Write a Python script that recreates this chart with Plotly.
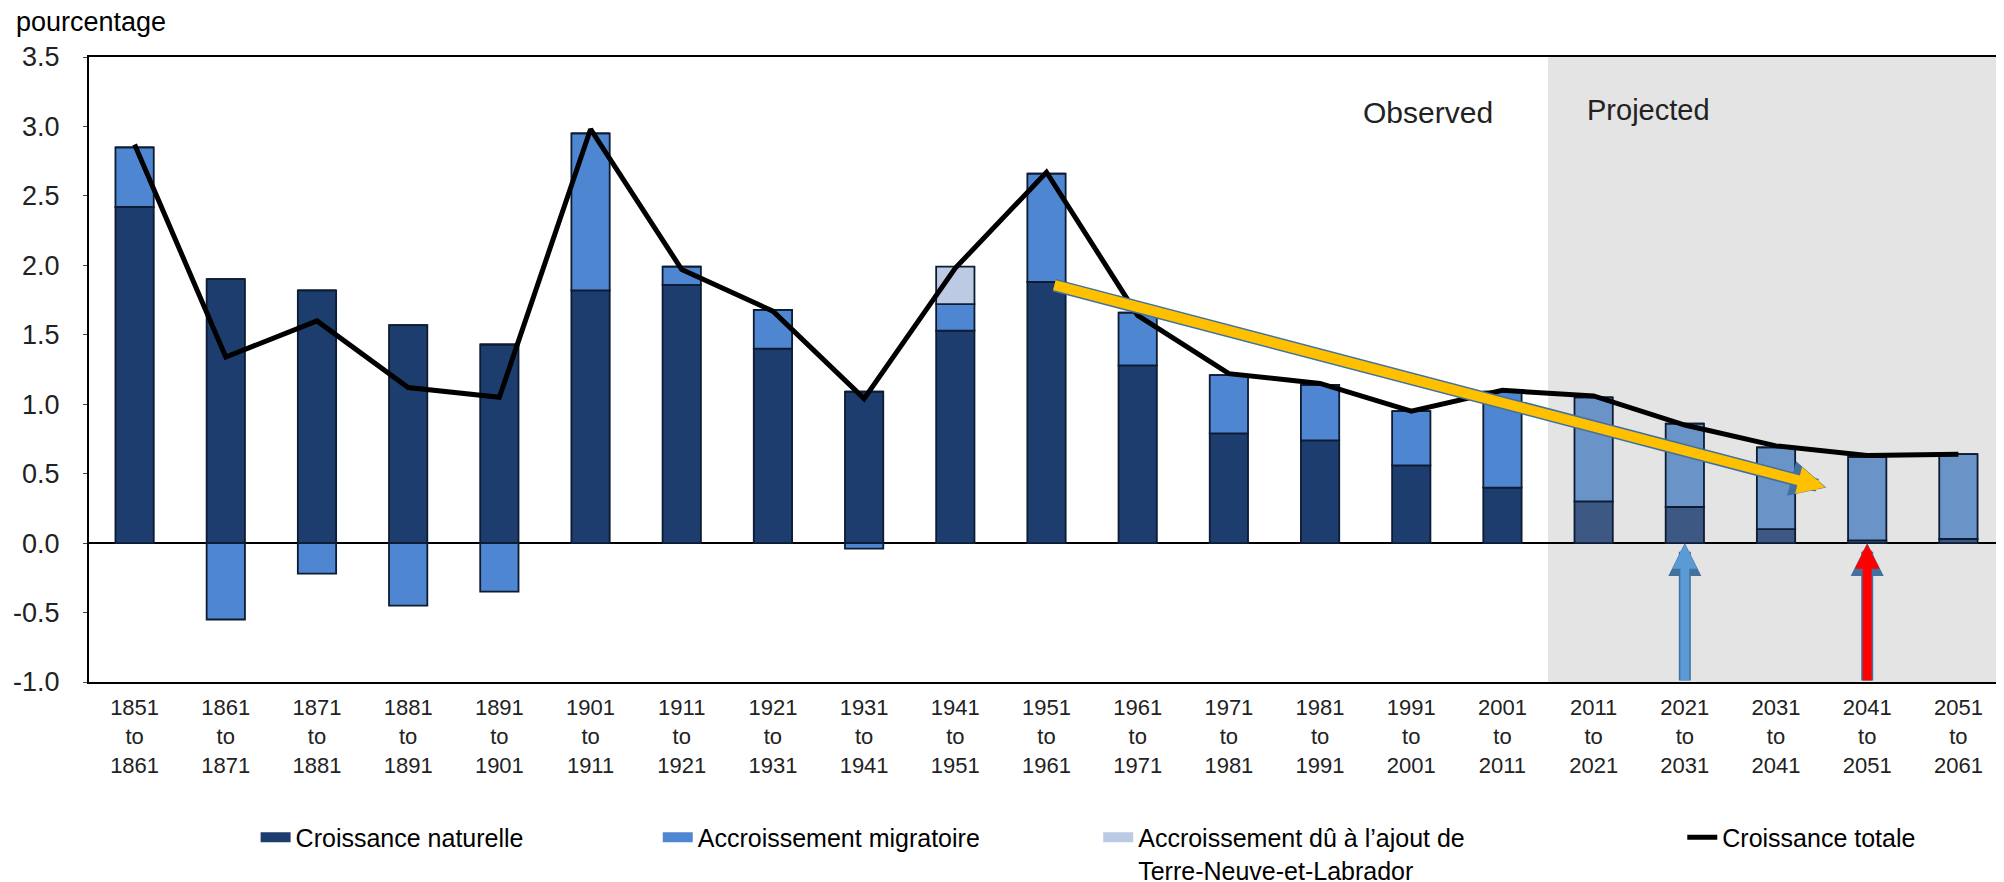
import plotly.graph_objects as go

periodes = ["1851<br>to<br>1861", "1861<br>to<br>1871", "1871<br>to<br>1881", "1881<br>to<br>1891",
            "1891<br>to<br>1901", "1901<br>to<br>1911", "1911<br>to<br>1921", "1921<br>to<br>1931",
            "1931<br>to<br>1941", "1941<br>to<br>1951", "1951<br>to<br>1961", "1961<br>to<br>1971",
            "1971<br>to<br>1981", "1981<br>to<br>1991", "1991<br>to<br>2001", "2001<br>to<br>2011",
            "2011<br>to<br>2021", "2021<br>to<br>2031", "2031<br>to<br>2041", "2041<br>to<br>2051",
            "2051<br>to<br>2061"]

naturelle = [2.42, 1.90, 1.82, 1.57, 1.43, 1.82, 1.86, 1.40, 1.09, 1.53, 1.88,
             1.28, 0.79, 0.74, 0.56, 0.40, 0.30, 0.26, 0.10, 0.02, 0.03]
migratoire = [0.43, -0.55, -0.22, -0.45, -0.35, 1.13, 0.13, 0.28, -0.04, 0.19, 0.78,
              0.38, 0.42, 0.40, 0.39, 0.69, 0.75, 0.60, 0.59, 0.60, 0.61]
terre_neuve = [0, 0, 0, 0, 0, 0, 0, 0, 0, 0.27, 0,
               0, 0, 0, 0, 0, 0, 0, 0, 0, 0]
totale = [2.87, 1.34, 1.60, 1.12, 1.05, 2.98, 1.97, 1.67, 1.04, 1.98, 2.67,
          1.64, 1.22, 1.15, 0.95, 1.10, 1.06, 0.85, 0.70, 0.63, 0.64]
projete = [False] * 16 + [True] * 5

y_ticks = [-1.0, -0.5, 0.0, 0.5, 1.0, 1.5, 2.0, 2.5, 3.0, 3.5]
y_labels = ["-1.0", "-0.5", "0.0", "0.5", "1.0", "1.5", "2.0", "2.5", "3.0", "3.5"]

x = list(range(len(periodes)))

col_nat = ["#3d5882" if p else "#1c3d6e" for p in projete]
col_mig = ["#6a94c8" if p else "#4f86d1" for p in projete]

police = "Liberation Sans, Arial, sans-serif"
contour = dict(color="#0d1b33", width=1.8)

fig = go.Figure()

fig.add_trace(go.Bar(x=x, y=naturelle, width=0.42, showlegend=False,
                     marker=dict(color=col_nat, line=contour)))
fig.add_trace(go.Bar(x=x, y=migratoire, width=0.42, showlegend=False,
                     marker=dict(color=col_mig, line=contour)))
fig.add_trace(go.Bar(x=x, y=terre_neuve, width=0.42, showlegend=False,
                     marker=dict(color="#bccbe3", line=contour)))
fig.add_trace(go.Scatter(x=x, y=totale, mode="lines", showlegend=False,
                         line=dict(color="black", width=5)))

# entrées de légende (rectangles larges comme dans l'original)
legendes = [
    ("Croissance naturelle", "#1c3d6e", "legend"),
    ("Accroissement migratoire", "#4f86d1", "legend2"),
    ("Accroissement dû à l’ajout de<br>Terre-Neuve-et-Labrador", "#bccbe3", "legend3"),
    ("Croissance totale", "black", "legend4"),
]
for nom, c, lg in legendes:
    largeur = 5 if c == "black" else 11
    fig.add_trace(go.Scatter(x=[None], y=[None], mode="lines", name=nom,
                             line=dict(color=c, width=largeur), legend=lg, showlegend=True))

# zone projetée
fig.add_shape(type="rect", xref="x", yref="y", x0=15.5, x1=20.6, y0=-1, y1=3.5,
              fillcolor="#e4e4e4", line=dict(width=0), layer="below")

fig.add_annotation(x=14.18, y=3.10, text="Observed", showarrow=False,
                   font=dict(family=police, size=30, color="#222"))
fig.add_annotation(x=16.6, y=3.12, text="Projected", showarrow=False,
                   font=dict(family=police, size=29, color="#222"))
fig.add_annotation(xref="paper", yref="paper", x=-0.039, y=1.056, text="pourcentage",
                   showarrow=False, xanchor="left", yanchor="middle",
                   font=dict(family=police, size=27, color="black"))

# flèches ajoutées
fleches = [
    (18.55, 0.40, 10.07, 1.86, "#ffc000", 10),
    (17.0, 0.0, 17.0, -1.0, "#5b9bd5", 9),
    (19.0, 0.0, 19.0, -1.0, "#ff0000", 9),
]
for hx, hy, tx, ty, c, w in fleches:
    fig.add_annotation(x=hx, y=hy, ax=tx, ay=ty, xref="x", yref="y", axref="x", ayref="y",
                       text="", showarrow=True, arrowhead=2, arrowsize=0.55,
                       arrowwidth=w + 3, arrowcolor="#41719c")
    fig.add_annotation(x=hx, y=hy, ax=tx, ay=ty, xref="x", yref="y", axref="x", ayref="y",
                       text="", showarrow=True, arrowhead=2, arrowsize=0.55,
                       arrowwidth=w, arrowcolor=c, standoff=1)

leg = dict(orientation="h", yanchor="top", y=-0.212, bgcolor="rgba(0,0,0,0)",
           font=dict(family=police, size=25, color="black"), valign="top")
fig.update_layout(
    width=2004, height=882,
    margin=dict(l=81, r=8, t=49, b=208, autoexpand=False),
    plot_bgcolor="white", paper_bgcolor="white",
    barmode="relative", showlegend=True,
    legend=dict(leg, x=0.087),
    legend2=dict(leg, x=0.297),
    legend3=dict(leg, x=0.527),
    legend4=dict(leg, x=0.832),
)
fig.update_xaxes(range=[-0.5, 20.5], tickvals=x, ticktext=periodes, showgrid=False,
                 showline=True, mirror=True, linecolor="black", linewidth=2, ticks="",
                 ticklabelstandoff=5, tickfont=dict(family=police, size=22, color="#222"))
fig.update_yaxes(range=[-1, 3.5], tickvals=y_ticks, ticktext=y_labels, showgrid=False,
                 showline=True, mirror=True, linecolor="black", linewidth=2,
                 ticks="outside", ticklen=4, ticklabelstandoff=18, zeroline=True,
                 zerolinecolor="black", zerolinewidth=2,
                 tickfont=dict(family=police, size=27, color="#222"))

fig.write_html("out.html")
